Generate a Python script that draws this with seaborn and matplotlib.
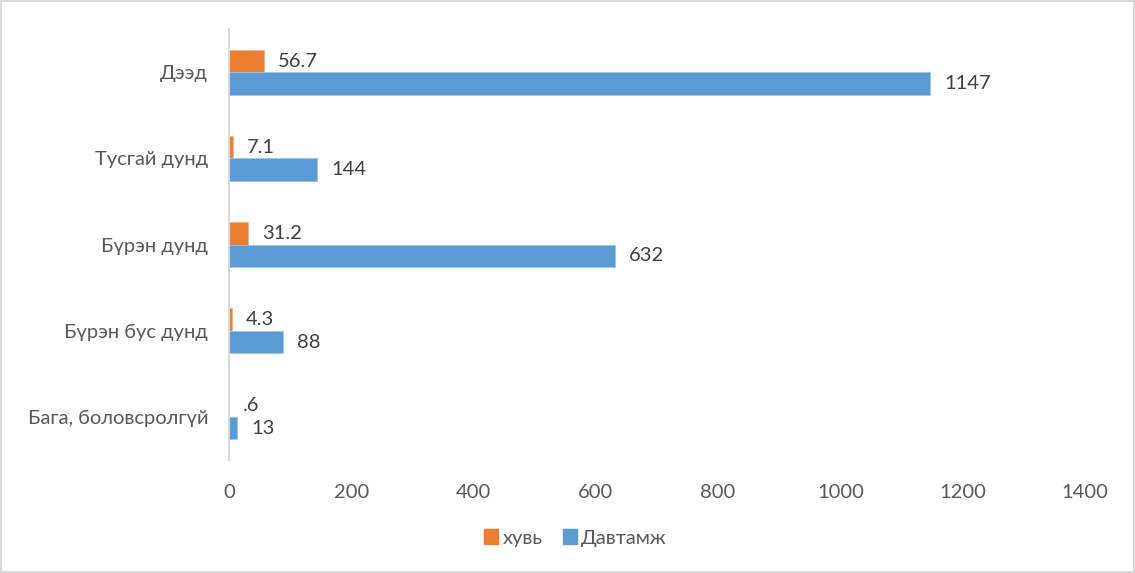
import matplotlib
matplotlib.use('Agg')
import matplotlib.pyplot as plt
import seaborn as sns
import pandas as pd
from matplotlib.patches import Patch

# Өгөгдөл
categories = ['Дээд', 'Тусгай дунд', 'Бүрэн дунд', 'Бүрэн бус дунд', 'Бага, боловсролгүй']
huvi = [56.7, 7.1, 31.2, 4.3, 0.6]
huvi_labels = ['56.7', '7.1', '31.2', '4.3', '.6']
davtamj = [1147, 144, 632, 88, 13]
davtamj_labels = ['1147', '144', '632', '88', '13']
series = ['хувь', 'Давтамж']
xticks = [0, 200, 400, 600, 800, 1000, 1200, 1400]

df = pd.DataFrame({
    'ангилал': categories * 2,
    'цуврал': [series[0]] * len(categories) + [series[1]] * len(categories),
    'утга': huvi + davtamj,
})

sns.set_theme(style='white')
plt.rcParams['font.family'] = ['Lato', 'DejaVu Sans']

fig = plt.figure(figsize=(11.35, 5.73), dpi=100, edgecolor='#d9d9d9', linewidth=1.5)
ax = fig.add_axes([0.2018, 0.197, 0.754, 0.752])

sns.barplot(data=df, x='утга', y='ангилал', hue='цуврал', orient='h',
            palette=['#ED7D31', '#5B9BD5'], saturation=1, width=0.52, ax=ax,
            linewidth=0, legend=False)

# Шошго, захын өнгө
edge_colors = ['#f4b183', '#9dc3e6']
for cont, labs, ec in zip(ax.containers, [huvi_labels, davtamj_labels], edge_colors):
    for bar in cont:
        bar.set_edgecolor(ec)
        bar.set_linewidth(0.6)
    ax.bar_label(cont, labels=labs, padding=10, fontsize=14.5, color='#404040')

ax.set_xlim(0, 1400)
ax.set_ylim(4.5, -0.5)
ax.set_xticks(xticks)
ax.set_xlabel('')
ax.set_ylabel('')
ax.tick_params(axis='x', length=0, pad=17, labelsize=14.5, labelcolor='#595959')
ax.tick_params(axis='y', length=0, pad=15, labelsize=14.5, labelcolor='#595959')
for s in ['top', 'right', 'bottom']:
    ax.spines[s].set_visible(False)
ax.spines['left'].set_color('#d9d9d9')
ax.spines['left'].set_linewidth(1.5)

# Тайлбар
handles = [Patch(color='#ED7D31'), Patch(color='#5B9BD5')]
fig.legend(handles, series, loc='center', bbox_to_anchor=(0.507, 0.061), ncol=2,
           frameon=False, fontsize=14.5, handlelength=0.7, handleheight=0.7,
           handletextpad=0.2, columnspacing=1.0, labelcolor='#595959')

fig.savefig('out.png', dpi=100)
